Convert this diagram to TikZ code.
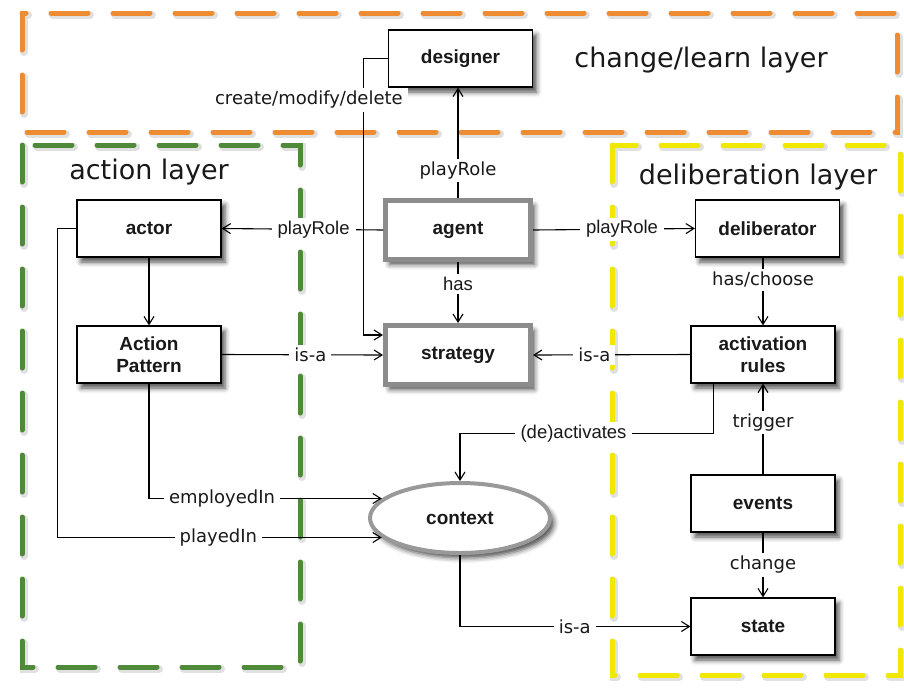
\documentclass[tikz,border=0pt]{standalone}
\usepackage{fontspec}
\setmainfont{Liberation Sans}
\newfontfamily\lucida{DejaVu Sans}
\usetikzlibrary{arrows.meta,shapes.geometric,shadows.blur}

\definecolor{layerorange}{RGB}{238,140,52}
\definecolor{layergreen}{RGB}{78,138,58}
\definecolor{layeryellow}{RGB}{240,232,0}
\definecolor{inktext}{RGB}{25,25,25}

\begin{document}
\begin{tikzpicture}[x=1pt,y=-1pt,
  layer/.style={line width=5pt, line cap=round, dash pattern=on 37pt off 25pt},
  layershade/.style={line width=8pt, line cap=round, dash pattern=on 37pt off 25pt, draw=black, opacity=0.12},
  layerlabel/.style={font=\lucida\fontsize{27}{30}\selectfont, text=inktext, inner sep=0pt},
  softshadow/.style={blur shadow={shadow xshift=4pt, shadow yshift=-5pt, shadow blur radius=5pt, shadow opacity=70}},
  box/.style={draw=black, line width=1.2pt, fill=white, minimum width=144pt, minimum height=57pt,
    inner sep=2pt, align=center, text=inktext, font=\bfseries\fontsize{19}{22}\selectfont, softshadow},
  core/.style={box, draw=black!45, line width=5pt, minimum width=145pt, minimum height=59pt},
  ctxshape/.style={ellipse, draw=black!40, line width=4pt, fill=white, minimum width=180pt, minimum height=70pt,
    inner sep=0pt, text=inktext, font=\bfseries\fontsize{19}{22}\selectfont, softshadow},
  arr/.style={line width=1.1pt, -{Straight Barb[length=8pt,width=10pt,line width=1.1pt]}},
  el/.style={fill=white, inner xsep=5pt, inner ysep=3pt, text=inktext, font=\lucida\fontsize{18}{20}\selectfont},
  hl/.style={fill=white, inner xsep=6pt, inner ysep=3pt, text=inktext, font=\fontsize{18.5}{20}\selectfont}
]
\useasboundingbox (0,0) rectangle (904,689);

% layer frames
\draw[layershade] (24,15) rectangle (899,134);
\draw[layershade] (24,147) rectangle (302,669);
\draw[layershade] (614,147) rectangle (902,677);
\draw[layer, draw=layerorange] (22,13) rectangle (897,132);
\draw[layer, draw=layergreen] (22,145) rectangle (300,667);
\draw[layer, draw=layeryellow] (612,145) rectangle (900,675);

\node[layerlabel] (lchange) at (701,60) {change/learn layer};
\node[layerlabel] (laction) at (149,172) {action layer};
\node[layerlabel] (ldelib) at (758,177) {deliberation layer};

% entities
\node[box] (designer) at (460.5,58.5) {designer};
\node[core] (agent) at (458,230) {agent};
\node[core] (strategy) at (458,355) {strategy};
\node[box] (actor) at (149,228.5) {actor};
\node[box] (ap) at (149,354.5) {Action\\Pattern};
\node[box] (delib) at (767.5,228.5) {deliberator};
\node[box] (ar) at (763,354.5) {activation\\rules};
\node[box] (events) at (763,503.5) {events};
\node[box] (state) at (763,626.5) {state};
\node[ctxshape] (ctx) at (460,518) {context};

% relations
\draw[arr] (agent.north) -- node[el,pos=0.25]{playRole} (agent.north |- designer.south);
\draw[arr] (agent.west) -- node[hl,pos=0.43]{playRole} (actor.east);
\draw[arr] (agent.east) -- node[hl,pos=0.55]{playRole} (delib.west);
\draw[arr] (agent.south) -- node[hl,pos=0.36,inner xsep=10pt]{has} (strategy.north);
\draw[arr] (ap.east) -- node[el,pos=0.55]{is-a} (strategy.west);
\draw[arr] (ar.west) -- node[el,pos=0.61]{is-a} (strategy.east);
\draw[arr] (ar.north |- delib.south) -- node[el,pos=0.33]{has/choose} (ar.north);
\draw[arr] (actor.south) -- (ap.north);
\draw[arr] (events.north) -- node[el,pos=0.57]{trigger} (ar.south);
\draw[arr] (events.south) -- node[el,pos=0.5]{change} (state.north);
\draw[arr] ([xshift=23pt]ar.south west) -- ++(0,50) -| node[hl,pos=0.276]{(de)activates} (ctx.north);
\draw[arr] (ctx.south) |- node[el,pos=0.749]{is-a} (state.west);
\draw[arr] (ap.south) |- node[el,pos=0.657]{employedIn} (ctx.166);
\draw[arr] (actor.west) -- ++(-19,0) |- node[el,pos=0.748]{playedIn} (ctx.194);
\draw[arr] (designer.west) -- ++(-24,0) |- node[el,pos=0.075,xshift=-55pt]{create/modify/delete} ([yshift=20pt]strategy.west);
\end{tikzpicture}
\end{document}
